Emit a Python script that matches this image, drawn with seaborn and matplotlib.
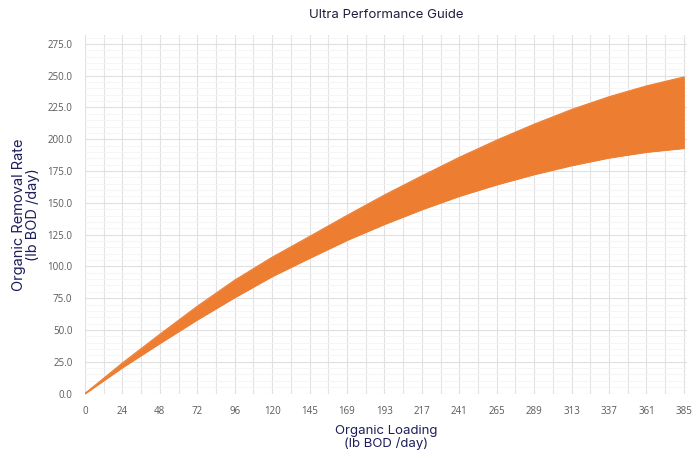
import numpy as np
import pandas as pd
import seaborn as sns
import matplotlib.pyplot as plt
from matplotlib.ticker import MultipleLocator, FixedLocator

# organic loading (lb BOD/day) and removal-rate envelope read from the guide
loading = [0, 24, 48, 72, 96, 120, 145, 169, 193, 217, 241, 265, 289, 313, 337, 361, 385]
upper = [0, 24, 46.5, 68.5, 89, 107, 124, 140.5, 156.5, 171.5, 186, 199.5, 212, 223.5, 233.5, 242, 249]
lower = [0, 20.5, 39.5, 58, 75.5, 92, 107, 121, 133.5, 145, 155.5, 164.5, 172.5, 179.5, 185.5, 190, 193]
x_labels = ['0', '24', '48', '72', '96', '120', '145', '169', '193', '217', '241',
            '265', '289', '313', '337', '361', '385']
y_ticks = [0, 25, 50, 75, 100, 125, 150, 175, 200, 225, 250, 275]

df = pd.DataFrame({'loading': loading, 'upper': upper, 'lower': lower})

sns.set_theme(style='white')
plt.rcParams['font.family'] = ['Inter', 'DejaVu Sans']

fig = plt.figure(figsize=(6.95, 4.53), dpi=100)
ax = fig.add_axes([0.1223, 0.1313, 0.8662, 0.7914])

# envelope of the ultra performance band
ax.fill_between(df['loading'], df['lower'], df['upper'], color='#ED7D31', linewidth=0.6,
                edgecolor='#ED7D31', zorder=3)
sns.lineplot(data=df, x='loading', y='upper', ax=ax, color='#ED7D31', linewidth=0.8, zorder=3)
sns.lineplot(data=df, x='loading', y='lower', ax=ax, color='#ED7D31', linewidth=0.8, zorder=3)

ax.set_xlim(0, 387)
ax.set_ylim(0, 282)

x_pos = np.linspace(0, 385, len(x_labels))
ax.xaxis.set_major_locator(FixedLocator(x_pos))
ax.xaxis.set_minor_locator(FixedLocator((x_pos[:-1] + x_pos[1:]) / 2))
ax.set_xticks(x_pos)
ax.set_xticklabels(x_labels)
ax.set_yticks(y_ticks)
ax.set_yticklabels([f'{v:.1f}' for v in y_ticks])
ax.yaxis.set_minor_locator(MultipleLocator(5))

ax.grid(which='major', axis='both', color='#e0e0e0', linewidth=0.8, zorder=0)
ax.grid(which='minor', axis='x', color='#e3e3e3', linewidth=0.8, zorder=0)
ax.grid(which='minor', axis='y', color='#f4f4f4', linewidth=0.6, zorder=0)
ax.set_axisbelow(True)

for s in ax.spines.values():
    s.set_visible(False)

ax.tick_params(axis='both', which='both', length=0, labelsize=7, labelcolor='#595959')
ax.tick_params(axis='x', pad=9)
ax.tick_params(axis='y', pad=9)
for lab in ax.get_xticklabels() + ax.get_yticklabels():
    lab.set_family(['Open Sans', 'DejaVu Sans'])

ax.set_title('Ultra Performance Guide', fontsize=9.5, color='#1e1e3c', pad=12)
ax.set_xlabel('Organic Loading\n(lb BOD /day)', fontsize=9.5, color='#1e1e5a',
              labelpad=6, linespacing=1.0)
ax.set_ylabel('Organic Removal Rate\n(lb BOD /day)', fontsize=10.5, color='#1e1e5a',
              labelpad=5, linespacing=1.0)

fig.savefig('out.png', dpi=100)
